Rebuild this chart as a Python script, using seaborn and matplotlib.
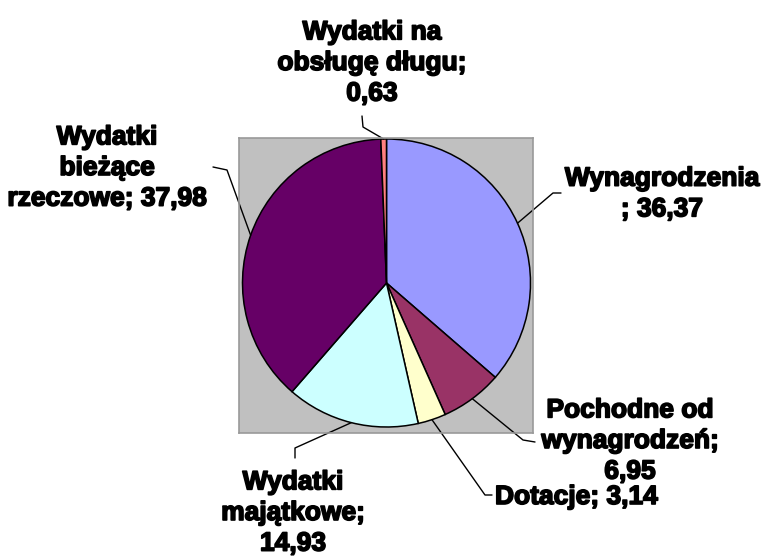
import numpy as np
import pandas as pd
import matplotlib
matplotlib.use('Agg')
import matplotlib.pyplot as plt
import matplotlib.patheffects as pe
import seaborn as sns

# data (clockwise from 12 o'clock)
names = ['Wynagrodzenia\n; ', 'Pochodne od\nwynagrodzeń;\n', 'Dotacje; ',
         'Wydatki\nmajątkowe;\n', 'Wydatki\nbieżące\nrzeczowe; ',
         'Wydatki na\nobsługę długu;\n']
values = [36.37, 6.95, 3.14, 14.93, 37.98, 0.63]
colors = ['#9999FF', '#993366', '#FFFFCC', '#CCFFFF', '#660066', '#FF8080']

df = pd.DataFrame({'name': names, 'value': values})
df['label'] = [n + f'{v:.2f}'.replace('.', ',') for n, v in zip(df['name'], df['value'])]

sns.set_style('white')
plt.rcParams['font.family'] = ['Liberation Sans', 'DejaVu Sans']

W, H = 763, 556
fig = plt.figure(figsize=(W / 100, H / 100), dpi=100)
# axes = grey plot area, coords in pixels (y up)
x0, x1, y0, y1 = 239, 533, 138, 433
ax = fig.add_axes([x0 / W, 1 - y1 / H, (x1 - x0) / W, (y1 - y0) / H])
ax.set_facecolor('#C0C0C0')

cx, cy, r = 386.5, H - 283, 144
wedges, _ = ax.pie(df['value'], colors=sns.color_palette(colors), startangle=90,
                   counterclock=False, center=(cx, cy), radius=r, frame=True,
                   wedgeprops=dict(edgecolor='black', linewidth=1.1))
ax.set_aspect('auto')
ax.set_xlim(x0, x1)
ax.set_ylim(H - y1, H - y0)
ax.set_xticks([])
ax.set_yticks([])
for s in ax.spines.values():
    s.set_color('#999999')
    s.set_linewidth(1.2)

# label layout: text anchor, alignment, leader kink, leader end (pixels, y down)
layout = [
    ((662, 194), 'center', (553, 193), (561, 193)),
    ((630, 441), 'center', (523, 440), (535, 442)),
    ((495, 497), 'left', (485, 495), (492, 495)),
    ((293, 513), 'center', (295, 448), (295, 458)),
    ((107, 168), 'center', (227, 170), (213, 167)),
    ((372, 63), 'center', (363, 127), (362, 116)),
]

for w, lab, (tp, ha, kink, end) in zip(wedges, df['label'], layout):
    ang = np.deg2rad((w.theta1 + w.theta2) / 2)
    sx, sy = cx + r * np.cos(ang), cy + r * np.sin(ang)
    ax.plot([sx, kink[0], end[0]], [sy, H - kink[1], H - end[1]],
            color='black', lw=1, clip_on=False)
    ax.text(tp[0], H - tp[1], lab, ha=ha, va='center', ma='center',
            fontsize=19, fontweight='bold', linespacing=1.35, color='black',
            clip_on=False,
            path_effects=[pe.withStroke(linewidth=1.2, foreground='black')])

fig.savefig('out.png', dpi=100, facecolor='white')
